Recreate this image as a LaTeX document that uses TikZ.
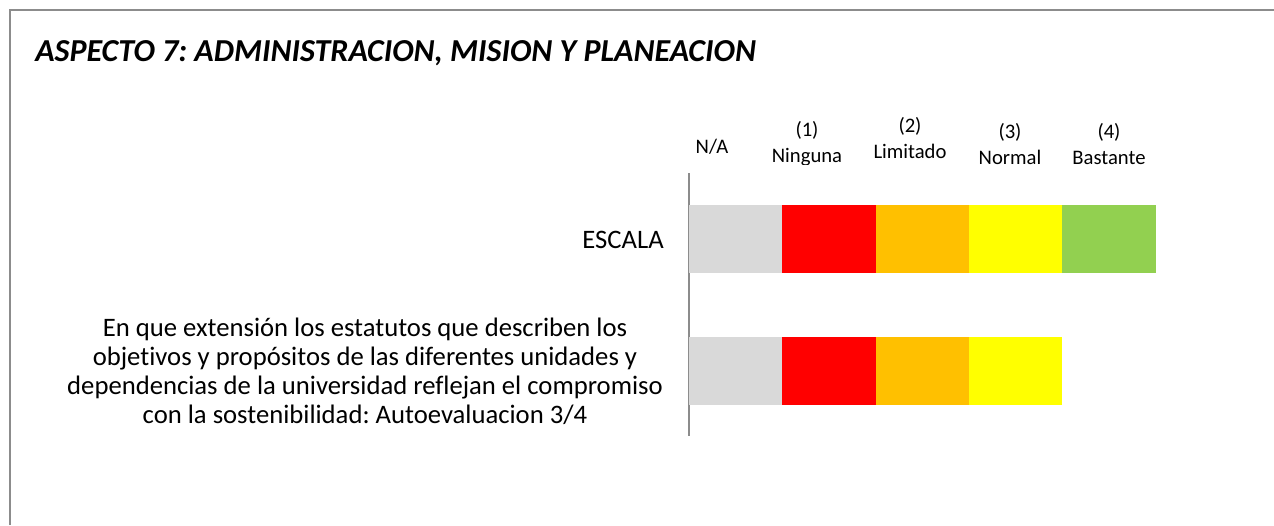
\documentclass[tikz,border=0pt]{standalone}
\usepackage{fontspec}
\setmainfont{Carlito}[Ligatures=NoCommon]
\usepackage{tikz}
\usetikzlibrary{positioning}
\frenchspacing

\definecolor{frame}{HTML}{8C8C8C}
\definecolor{cna}{HTML}{D9D9D9}
\definecolor{cred}{HTML}{FF0000}
\definecolor{corange}{HTML}{FFC000}
\definecolor{cyellow}{HTML}{FFFF00}
\definecolor{cgreen}{HTML}{92D050}

\begin{document}
\begin{tikzpicture}
		[x=0.75pt,y=-0.75pt,
		 bar/.style= {inner sep=0pt,minimum width=70.2pt,minimum height=51pt},
		 hd/.style= {inner sep=0pt,align=center,font=\fontsize{15.5}{19.5}\selectfont},
		 txt/.style= {inner sep=0pt,align=center,font=\fontsize{20}{21.8}\selectfont}]

		\useasboundingbox (0,0) rectangle (1274,525);

		% frame
		\draw[frame,line width=1.5pt] (10,525) -- (10,9.5) -- (1274,9.5);

		\node[anchor=west,inner sep=0pt,font=\fontsize{24}{28}\selectfont\bfseries\itshape]
			(title) at (35,53) {ASPECTO 7: ADMINISTRACION, MISION Y PLANEACION};

		% column heads
		\begin{scope}
		\clip (680,100) rectangle (1274,164);
		\node[hd] (hna) at (712,147) {N/A};
		\node[hd] (h1) at (807,144) {(1)\\Ninguna};
		\node[hd] (h2) at (910,138) {(2)\\Limitado};
		\node[hd] (h3) at (1010,144) {(3)\\Normal};
		\node[hd] (h4) at (1109,144) {(4)\\Bastante};
		\end{scope}

		% axis
		\coordinate (top) at (689,173);
		\coordinate (bot) at (689,436);
		\draw[frame,line width=1.1pt] (top) -- (bot);

		% row 1
		\node[bar,fill=cna] (a0) at (736,239) {};
		\node[bar,fill=cred] (a1) at (829,239) {};
		\node[bar,fill=corange] (a2) at (922.5,239) {};
		\node[bar,fill=cyellow] (a3) at (1015.5,239) {};
		\node[bar,fill=cgreen] (a4) at (1109,239) {};
		\node[txt,anchor=east] (escala) at (664,240) {ESCALA};

		% row 2
		\node[bar,fill=cna] (b0) at (736,371) {};
		\node[bar,fill=cred] (b1) at (829,371) {};
		\node[bar,fill=corange] (b2) at (922.5,371) {};
		\node[bar,fill=cyellow] (b3) at (1015.5,371) {};
		\node[txt] (pregunta) at (365,371) {En que extensión los estatutos que describen los\\objetivos y propósitos de las diferentes unidades y\\dependencias de la universidad reflejan el compromiso\\con la sostenibilidad: Autoevaluacion 3/4};

	\end{tikzpicture}
\end{document}
